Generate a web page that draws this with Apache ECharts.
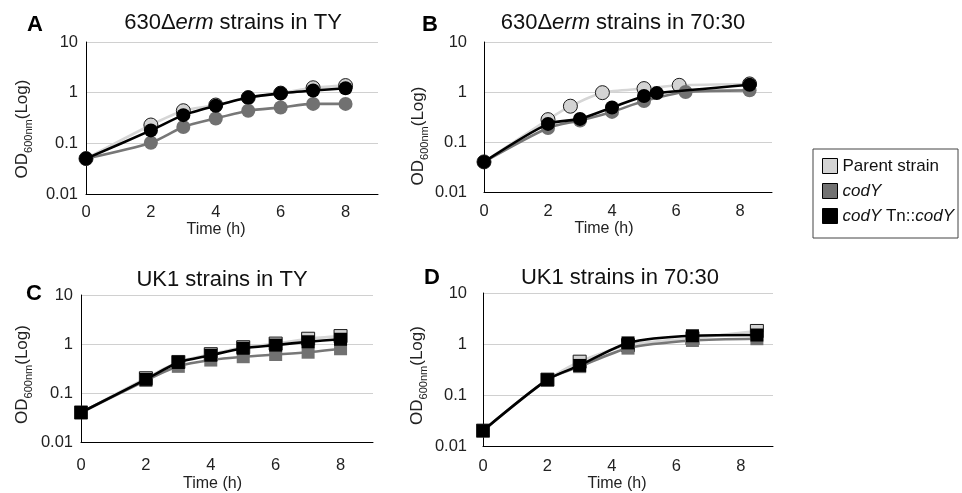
<!DOCTYPE html>
<html>
<head>
<meta charset="utf-8">
<script src="https://cdn.jsdelivr.net/npm/echarts@6/dist/echarts.min.js"></script>
<style>
    html, body { margin: 0; padding: 0; background: #fff; }
    #chart { width: 962px; height: 493px; }
</style>
</head>
<body>
<div id="chart"></div>
<script>
// values, OD600 on a log scale
var strains = ['Parent strain', 'codY', 'codY Tn::codY'];
var yTicks = ['0.01', '0.1', '1', '10'];
var xTicks = [0, 2, 4, 6, 8];

// A: 630Δerm strains in TY
var timeA = [0, 2, 3, 4, 5, 6, 7, 8];
var parentA = [0.05, 0.23, 0.44, 0.57, 0.8, 0.98, 1.25, 1.38];
var codYA = [0.05, 0.103, 0.21, 0.31, 0.44, 0.51, 0.6, 0.6];
var compA = [0.05, 0.18, 0.36, 0.55, 0.8, 0.97, 1.1, 1.22];

// B: 630Δerm strains in 70:30 (sampling times differ per strain)
var timeBParent = [0, 2, 2.7, 3.7, 5, 6.1, 8.3];
var parentB = [0.04, 0.28, 0.52, 0.97, 1.17, 1.36, 1.45];
var timeBCodY = [0, 2, 3, 4, 5, 6.3, 8.3];
var codYB = [0.04, 0.19, 0.27, 0.4, 0.66, 1.0, 1.08];
var timeBComp = [0, 2, 3, 4, 5, 5.4, 8.3];
var compB = [0.04, 0.23, 0.29, 0.49, 0.83, 0.95, 1.4];

// C: UK1 strains in TY
var timeC = [0, 2, 3, 4, 5, 6, 7, 8];
var parentC = [0.04, 0.2, 0.43, 0.62, 0.86, 1.02, 1.28, 1.45];
var codYC = [0.04, 0.18, 0.35, 0.47, 0.55, 0.61, 0.68, 0.8];
var compC = [0.04, 0.19, 0.42, 0.59, 0.82, 0.95, 1.11, 1.25];

// D: UK1 strains in 70:30
var timeD = [0, 2, 3, 4.5, 6.5, 8.5];
var parentD = [0.02, 0.2, 0.45, 0.95, 1.3, 1.8];
var codYD = [0.02, 0.2, 0.36, 0.83, 1.17, 1.27];
var compD = [0.02, 0.2, 0.38, 1.05, 1.45, 1.5];

var font = '"Liberation Sans", Arial, sans-serif';

// panel layout: grid box, label margins, name offsets
var panels = [
    {left: 86, top: 42, width: 292, height: 152, xMargin: 10, yMargin: 8, xGap: 28, xPad: 32, yGap: 52, yPad: 22},
    {left: 484, top: 42, width: 288, height: 150, xMargin: 11, yMargin: 17, xGap: 29, xPad: 48, yGap: 54, yPad: 38},
    {left: 81, top: 295, width: 292, height: 152, xMargin: 15, yMargin: 8, xGap: 34, xPad: 29, yGap: 47, yPad: 12},
    {left: 483, top: 293, width: 290, height: 154, xMargin: 12, yMargin: 16, xGap: 30, xPad: 22, yGap: 54, yPad: 12}
];

var looks = [
    {fill: '#d3d3d3', line: '#d6d6d6', border: '#1a1a1a', bw: 1},
    {fill: '#717171', line: '#777777', border: '#717171', bw: 0},
    {fill: '#000000', line: '#000000', border: '#000000', bw: 0}
];

function pairs(xs, ys) {
    return xs.map(function (x, i) {
        return [x, ys[i]];
    });
}

function mkSeries(k, idx, xs, ys, symbol) {
    var lk = looks[k];
    return {
        name: strains[k],
        type: 'line',
        xAxisIndex: idx,
        yAxisIndex: idx,
        data: pairs(xs, ys),
        smooth: 0.25,
        symbol: symbol,
        symbolSize: symbol === 'rect' ? 13 : 14,
        z: 2 + k,
        lineStyle: {color: lk.line, width: 2.6},
        itemStyle: {color: lk.fill, borderColor: lk.border, borderWidth: lk.bw}
    };
}

var chart = echarts.init(document.getElementById('chart'));

var grids = [], xAxes = [], yAxes = [];
panels.forEach(function (p, i) {
    grids.push({left: p.left, top: p.top, width: p.width, height: p.height});
    xAxes.push({
        type: 'value', gridIndex: i, min: 0, max: 9, interval: 2,
        axisLine: {lineStyle: {color: '#000', width: 1}},
        axisTick: {show: false},
        splitLine: {show: false},
        axisLabel: {
            showMaxLabel: false, fontSize: 16.5, fontFamily: font, color: '#222', margin: p.xMargin,
            formatter: function (v) { return xTicks.indexOf(v) >= 0 ? String(v) : ''; }
        },
        name: 'Time (h)', nameLocation: 'middle', nameGap: p.xGap,
        nameTextStyle: {fontSize: 16, fontFamily: font, color: '#222', padding: [0, p.xPad, 0, 0]}
    });
    yAxes.push({
        type: 'log', logBase: 10, gridIndex: i, min: 0.01, max: 10,
        axisLine: {show: true, lineStyle: {color: '#000', width: 1}},
        axisTick: {show: false},
        splitLine: {show: true, lineStyle: {color: '#d0d0d0', width: 1}},
        axisLabel: {
            fontSize: 16.5, fontFamily: font, color: '#222', margin: p.yMargin,
            formatter: function (v) {
                var s = String(+v.toPrecision(1));
                return yTicks.indexOf(s) >= 0 ? s : '';
            }
        },
        name: 'OD{sub|600nm}(Log)', nameLocation: 'middle', nameRotate: 90, nameGap: p.yGap,
        nameTextStyle: {
            fontSize: 17, fontFamily: font, color: '#222', lineHeight: 20,
            padding: [0, p.yPad, 0, 0],
            rich: {
                sub: {fontSize: 11, fontFamily: font, color: '#222', lineHeight: 24, verticalAlign: 'bottom'}
            }
        }
    });
});

var series = [
    mkSeries(0, 0, timeA, parentA, 'circle'),
    mkSeries(1, 0, timeA, codYA, 'circle'),
    mkSeries(2, 0, timeA, compA, 'circle'),
    mkSeries(0, 1, timeBParent, parentB, 'circle'),
    mkSeries(1, 1, timeBCodY, codYB, 'circle'),
    mkSeries(2, 1, timeBComp, compB, 'circle'),
    mkSeries(0, 2, timeC, parentC, 'rect'),
    mkSeries(1, 2, timeC, codYC, 'rect'),
    mkSeries(2, 2, timeC, compC, 'rect'),
    mkSeries(0, 3, timeD, parentD, 'rect'),
    mkSeries(1, 3, timeD, codYD, 'rect'),
    mkSeries(2, 3, timeD, compD, 'rect')
];

// panel titles and letters
var tSize = 22;
var it = {fontStyle: 'italic', fontSize: tSize, fontFamily: font, fill: '#111'};
function titleText(x, y, text) {
    return {
        type: 'text', x: x, y: y,
        style: {
            text: text, fontSize: tSize, fontFamily: font, fill: '#111',
            align: 'center', verticalAlign: 'middle', rich: {i: it, n: {fontSize: tSize, fontFamily: font, fill: '#111'}}
        }
    };
}
function letter(x, y, text) {
    return {
        type: 'text', x: x, y: y,
        style: {text: text, fontSize: 22, fontWeight: 'bold', fontFamily: font, fill: '#000', align: 'center', verticalAlign: 'middle'}
    };
}

var option = {
    animation: false,
    backgroundColor: '#fff',
    grid: grids,
    xAxis: xAxes,
    yAxis: yAxes,
    legend: {
        data: strains,
        orient: 'vertical',
        left: 813,
        top: 149,
        icon: 'rect',
        itemWidth: 15,
        itemHeight: 15,
        itemGap: 5,
        itemTextGap: 3,
        padding: [7, 4, 12, 9],
        borderColor: '#444',
        borderWidth: 1,
        selectedMode: false,
        itemStyle: {borderColor: '#000', borderWidth: 1},
        formatter: function (name) {
            if (name === 'codY') return '{i|codY}';
            if (name === 'codY Tn::codY') return '{i|codY} Tn::{i|codY}';
            return name;
        },
        textStyle: {
            fontSize: 17, fontFamily: font, color: '#111', lineHeight: 20,
            rich: {i: {fontStyle: 'italic', fontSize: 17, fontFamily: font, color: '#111', lineHeight: 20}}
        }
    },
    graphic: [
        letter(35, 25, 'A'),
        titleText(233, 23, '{n|630Δ}{i|erm}{n| strains in TY}'),
        letter(430, 25, 'B'),
        titleText(623, 23, '{n|630Δ}{i|erm}{n| strains in 70:30}'),
        letter(34, 294, 'C'),
        titleText(222, 280, 'UK1 strains in TY'),
        letter(432, 278, 'D'),
        titleText(620, 278, 'UK1 strains in 70:30')
    ],
    series: series
};

chart.setOption(option);
</script>
</body>
</html>
